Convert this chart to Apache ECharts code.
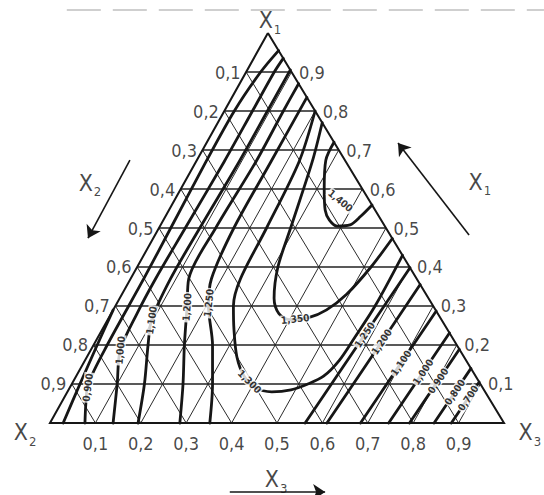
<!DOCTYPE html>
<html>
<head>
<meta charset="utf-8">
<script src="https://cdn.jsdelivr.net/npm/echarts@6/dist/echarts.min.js"></script>
<style>
  html, body { margin: 0; padding: 0; background: #fff; }
  #chart { width: 544px; height: 495px; }
</style>
</head>
<body>
<div id="chart"></div>
<script>
// Ternary diagram X1–X2–X3 with isolines of the measured property.
// Every composition point is written as [X1, X3]; X2 = 1 - X1 - X3.

const tickValues = [0.1, 0.2, 0.3, 0.4, 0.5, 0.6, 0.7, 0.8, 0.9];
const tickLabels = ['0,1', '0,2', '0,3', '0,4', '0,5', '0,6', '0,7', '0,8', '0,9'];

// isolines on the X2 side (from the base up towards the X1 vertex)
const iso080L = [[0, 0.029], [0.1, 0.018], [0.2, 0.008], [0.29, 0]];
const iso090L = [[0, 0.077], [0.05, 0.055], [0.1, 0.036], [0.2, 0.03], [0.37, 0.029], [0.5, 0.026], [0.67, 0.022], [0.8, 0.022], [0.9, 0.032], [0.955, 0.045]];
const iso100L = [[0, 0.139], [0.1, 0.1], [0.187, 0.065], [0.28, 0.057], [0.37, 0.055], [0.5, 0.058], [0.67, 0.062], [0.8, 0.062], [0.9, 0.062], [0.935, 0.065]];
const iso110L = [[0, 0.194], [0.1, 0.16], [0.2, 0.12], [0.264, 0.097], [0.37, 0.088], [0.5, 0.09], [0.67, 0.095], [0.8, 0.095], [0.905, 0.095]];
const iso120L = [[0, 0.286], [0.1, 0.245], [0.2, 0.2], [0.3, 0.158], [0.37, 0.128], [0.5, 0.125], [0.67, 0.132], [0.8, 0.13], [0.87, 0.13]];
const iso125L = [[0, 0.352], [0.1, 0.31], [0.2, 0.262], [0.3, 0.205], [0.37, 0.178], [0.5, 0.165], [0.67, 0.165], [0.835, 0.165]];
// bent isolines around the maximum
const iso130 = [[0.8, 0.2], [0.67, 0.227], [0.5, 0.237], [0.37, 0.242], [0.3, 0.26], [0.24, 0.29], [0.17, 0.33], [0.12, 0.37], [0.09, 0.41], [0.08, 0.45], [0.085, 0.49], [0.1, 0.52], [0.12, 0.545], [0.16, 0.56], [0.22, 0.566], [0.3, 0.572], [0.43, 0.57]];
const iso135 = [[0.77, 0.23], [0.67, 0.256], [0.5, 0.29], [0.4, 0.31], [0.32, 0.34], [0.28, 0.37], [0.265, 0.4], [0.27, 0.44], [0.29, 0.47], [0.33, 0.495], [0.4, 0.515], [0.473, 0.527]];
const iso140 = [[0.72, 0.28], [0.674, 0.284], [0.6, 0.316], [0.546, 0.344], [0.521, 0.365], [0.505, 0.39], [0.508, 0.417], [0.53, 0.43], [0.559, 0.441]];
// isolines on the X3 side
const iso125R = [[0, 0.562], [0.2, 0.582], [0.398, 0.602]];
const iso120R = [[0, 0.61], [0.18, 0.628], [0.355, 0.645]];
const iso110R = [[0, 0.684], [0.14, 0.698], [0.287, 0.713]];
const iso100R = [[0, 0.746], [0.12, 0.758], [0.231, 0.769]];
const iso090R = [[0, 0.792], [0.1, 0.802], [0.189, 0.811]];
const iso080R = [[0, 0.846], [0.07, 0.853], [0.14, 0.86]];
const iso070R = [[0, 0.884], [0.05, 0.889], [0.105, 0.895]];

const isoPaths  = [iso080L, iso090L, iso100L, iso110L, iso120L, iso125L, iso130, iso135, iso140, iso125R, iso120R, iso110R, iso100R, iso090R, iso080R, iso070R];
const isoLevels = [0.8, 0.9, 1.0, 1.1, 1.2, 1.25, 1.3, 1.35, 1.4, 1.25, 1.2, 1.1, 1.0, 0.9, 0.8, 0.7];
// where each level is written, [X1, X3]; null = not written
const isoLabelAt = [null, [0.092, 0.033], [0.187, 0.06], [0.264, 0.093], [0.297, 0.159], [0.308, 0.198],
  [0.11, 0.39], [0.3, 0.393], [0.57, 0.366],
  [0.226, 0.585], [0.208, 0.631], [0.154, 0.699], [0.131, 0.759], [0.108, 0.803], [0.079, 0.854], [0.064, 0.89]];

const FONT = "'Liberation Sans Narrow', 'DejaVu Sans Condensed', 'DejaVu Sans', sans-serif";
const INK = '#161616';
const CLEAR = 'rgba(0,0,0,0)';
const APEX_SHIFT = 0.48;                 // X1 vertex sits slightly left of the base middle
const tern = p => [p[1] + APEX_SHIFT * p[0], p[0]];

const chart = echarts.init(document.getElementById('chart'), null, { renderer: 'svg' });

// triangular mesh
const hLines = [], dLines = [];
tickValues.forEach(v => {
  hLines.push({ coords: [tern([v, 0]), tern([v, 1 - v])] });
  dLines.push({ coords: [tern([0, v]), tern([1 - v, v])] });       // X3 = const
  dLines.push({ coords: [tern([0, 1 - v]), tern([1 - v, 0])] });   // X2 = const
});

// X2 is read on the left side, X1 on the right side, X3 along the base
const tickData = [];
tickValues.forEach((v, i) => {
  tickData.push({ value: tern([1 - v, 0]), name: tickLabels[i], label: { position: 'left', distance: 5 } });
  tickData.push({ value: tern([v, 1 - v]), name: tickLabels[i], label: { position: 'right', distance: 7 } });
  tickData.push({ value: tern([0, v]), name: tickLabels[i], label: { position: 'bottom', distance: 11 } });
});

const subRich = {
  m: { fontFamily: FONT, fontSize: 23, color: INK, verticalAlign: 'bottom', lineHeight: 26 },
  s: { fontFamily: FONT, fontSize: 13, color: INK, verticalAlign: 'bottom', lineHeight: 15, padding: [0, 0, -4, 1] }
};
const nameItem = (pos, idx) => ({ value: pos, label: { formatter: '{m|X}{s|' + idx + '}' } });

const series = [
  { type: 'lines', coordinateSystem: 'cartesian2d', silent: true, z: 1,
    lineStyle: { color: '#2b2b2b', width: 1, opacity: 1 }, data: dLines },
  { type: 'lines', coordinateSystem: 'cartesian2d', silent: true, z: 1,
    lineStyle: { color: '#222', width: 1.5, opacity: 1 }, data: hLines },
  { type: 'lines', coordinateSystem: 'cartesian2d', polyline: true, silent: true, z: 2,
    lineStyle: { color: INK, width: 2, opacity: 1 },
    data: [{ coords: [tern([1, 0]), tern([0, 0]), tern([0, 1]), tern([1, 0])] }] },
  // faint scanner edge along the top of the sheet
  { type: 'lines', coordinateSystem: 'cartesian2d', silent: true, z: 0,
    lineStyle: { color: '#cfcfcf', width: 2, type: [34, 12], opacity: 1 },
    data: [{ coords: [[0.037, 1.059], [1.088, 1.059]] }] },
  // direction arrows
  { type: 'lines', coordinateSystem: 'cartesian2d', silent: true, z: 2,
    symbol: ['none', 'arrow'], symbolSize: [7, 12],
    lineStyle: { color: INK, width: 1.6, opacity: 1 }, itemStyle: { color: INK },
    data: [
      { coords: [[0.176, 0.674], [0.0837, 0.474]] },
      { coords: [[0.923, 0.482], [0.7665, 0.718]] },
      { coords: [[0.396, -0.177], [0.606, -0.177]] }
    ] },
  { type: 'scatter', silent: true, symbolSize: 1, itemStyle: { color: CLEAR }, z: 5,
    label: { show: true, formatter: '{b}', fontFamily: FONT, fontSize: 18, color: INK },
    data: tickData },
  { type: 'scatter', silent: true, symbolSize: 1, itemStyle: { color: CLEAR }, z: 5,
    label: { show: true, position: 'inside', rich: subRich },
    data: [
      nameItem([0.4846, 1.036], 1),
      nameItem([-0.055, -0.0205], 2),
      nameItem([1.057, -0.0205], 3),
      nameItem([0.088, 0.6205], 2),
      nameItem([0.947, 0.623], 1),
      nameItem([0.498, -0.141], 3)
    ] }
];

isoPaths.forEach(path => {
  series.push({
    type: 'line', data: path.map(tern), smooth: 0.3, symbol: 'none', silent: true, z: 3,
    lineStyle: { color: INK, width: 2.8, cap: 'round', join: 'round' }
  });
});

const option = {
  animation: false,
  backgroundColor: '#fff',
  grid: { left: 0, right: 0, top: 0, bottom: 0 },
  xAxis: { type: 'value', min: -0.11013, max: 1.08811, show: false },
  yAxis: { type: 'value', min: -0.18462, max: 1.08462, show: false },
  series: series
};
chart.setOption(option);

// level labels: set along the local direction of their isoline;
// the closed 1,400 loop carries its level inside, written slantwise
const fmt = v => v.toFixed(3).replace('.', ',');
const labelItems = [];
isoPaths.forEach((path, k) => {
  const at = isoLabelAt[k];
  if (!at) return;
  const px = path.map(p => chart.convertToPixel({ gridIndex: 0 }, tern(p)));
  const a = chart.convertToPixel({ gridIndex: 0 }, tern(at));
  let best = null;
  for (let i = 0; i < px.length - 1; i++) {
    const [x1, y1] = px[i], [x2, y2] = px[i + 1];
    const dx = x2 - x1, dy = y2 - y1, L2 = dx * dx + dy * dy;
    let t = ((a[0] - x1) * dx + (a[1] - y1) * dy) / L2;
    t = Math.max(0, Math.min(1, t));
    const qx = x1 + t * dx, qy = y1 + t * dy;
    const d = (qx - a[0]) ** 2 + (qy - a[1]) ** 2;
    if (!best || d < best.d) best = { d, dx, dy, q: [qx, qy] };
  }
  let ang = Math.atan2(-best.dy, best.dx) * 180 / Math.PI;
  if (ang > 90) ang -= 180;
  if (ang < -90) ang += 180;
  const inside = k === isoPaths.indexOf(iso140);
  if (inside) ang = -40;
  const pos = chart.convertFromPixel({ gridIndex: 0 }, inside ? a : best.q);
  labelItems.push({ value: pos, name: fmt(isoLevels[k]), label: { rotate: ang } });
});

series.push({
  type: 'scatter', silent: true, symbolSize: 1, itemStyle: { color: CLEAR }, z: 6,
  label: { show: true, position: 'inside', formatter: '{b}', fontFamily: FONT, fontSize: 10,
           fontWeight: 'bold', color: '#000', backgroundColor: '#fff', padding: [0, 1] },
  data: labelItems
});
chart.setOption({ series: series });
</script>
</body>
</html>
